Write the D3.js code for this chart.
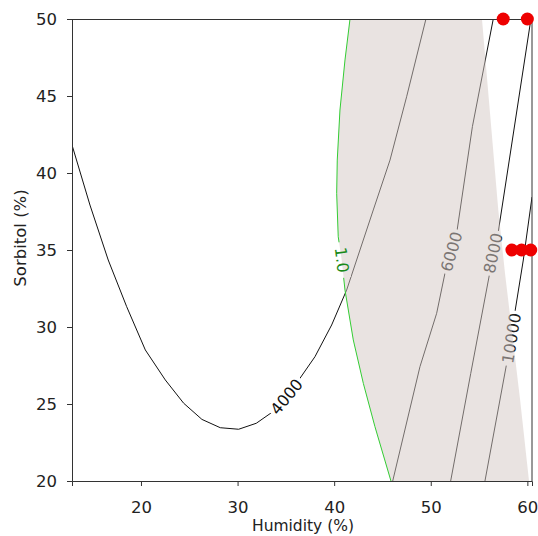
<!DOCTYPE html>
<html><head><meta charset="utf-8">
<script src="https://cdn.jsdelivr.net/npm/d3@7"></script>
<style>body{margin:0;background:#fff}svg{display:block}</style>
</head><body><svg id="chart" width="538" height="536"></svg>
<script>
// ---- data ----
const xTicks = [20, 30, 40, 50, 60];
const yTicks = [20, 25, 30, 35, 40, 45, 50];
const xDomain = [12.86, 60.48];
const yDomain = [20, 50];

// contour levels: [humidity, sorbitol]
const level4000 = [[12.86,41.82],[14.72,37.92],[16.61,34.35],[18.52,31.32],[20.45,28.51],[22.52,26.56],[24.42,25.05],[26.31,24.0],[28.21,23.46],[30.11,23.36],[31.94,23.75],[33.56,24.46],[35.08,25.47],[36.46,26.67],[38.01,28.07],[39.74,30.13],[41.29,32.4],[42.67,35.0],[44.05,37.6],[45.78,40.84],[47.5,44.95],[49.5,50]];
const level6000 = [[46.06,20],[48.88,27.42],[50.61,30.89],[51.47,33.49],[52.16,34.89],[52.68,36.08],[54.31,43.01],[56.47,50]];
const level8000 = [[52.06,20],[54.14,26.99],[56.13,33.59],[56.47,34.8],[56.99,36.19],[60.37,50]];
const level10000 = [[55.61,20],[57.86,27.64],[58.37,29.27],[58.72,31.0],[59.58,34.35],[60.48,38.44]];
const desirability = [[41.64,50],[41.12,47.34],[40.6,44.09],[40.32,40.84],[40.26,38.68],[40.42,35.86],[40.78,34.35],[41.12,32.4],[41.98,29.16],[43.02,26.34],[44.22,23.53],[45.88,20]];
const regionRightEdge = [[55.30,50],[56.99,37.6],[57.68,33.51],[59.25,25.26],[60.17,20]];

const contourNames = ["4000","6000","8000","10000"];
const contourLines = [level4000, level6000, level8000, level10000];
const labelAnchors = [[35.08,25.47],[52.16,34.89],[56.47,34.8],[58.37,29.27]];
const labelColors = ["#111","#222","#222","#222"];
const desirabilityLabel = "1.0";
const desirabilityAnchor = [40.78,34.35];

const pointsHumidity = [57.5, 60.0, 58.4, 59.4, 60.35];
const pointsSorbitol = [50, 50, 35, 35, 35];

// ---- layout ----
const W = 538, H = 536;
const m = {left:72, right:6, top:19, bottom:55};
const svg = d3.select("#chart");
const x = d3.scaleLinear().domain(xDomain).range([m.left, W - m.right]);
const y = d3.scaleLinear().domain(yDomain).range([H - m.bottom, m.top]);
const line = d3.line().x(d => x(d[0])).y(d => y(d[1]));
const font = "'DejaVu Sans', Verdana, sans-serif";

svg.append("defs").append("clipPath").attr("id","plotclip")
  .append("rect").attr("x",x.range()[0]).attr("y",y.range()[1])
  .attr("width",x.range()[1]-x.range()[0]).attr("height",y.range()[0]-y.range()[1]);

function labelGeom(pts, anchor){
  let best = 0, bd = Infinity;
  pts.forEach((p,i)=>{const d=(p[0]-anchor[0])**2+(p[1]-anchor[1])**2; if(d<bd){bd=d;best=i;}});
  const a = pts[Math.max(0,best-1)], b = pts[Math.min(pts.length-1,best+1)];
  let ang = Math.atan2(y(b[1])-y(a[1]), x(b[0])-x(a[0]))*180/Math.PI;
  if (ang > 90) ang -= 180; if (ang <= -90) ang += 180;
  return {cx:x(anchor[0]), cy:y(anchor[1]), ang};
}

const labelFont = 16;
const allLabels = contourNames.map((t,i)=>({text:t, g:labelGeom(contourLines[i], labelAnchors[i]), color:labelColors[i]}));
const dLabel = {text:desirabilityLabel, g:labelGeom(desirability, desirabilityAnchor), color:"#1a8a1a"};

// mask with gaps at labels
const mask = svg.select("defs").append("mask").attr("id","gapmask").attr("maskUnits","userSpaceOnUse")
  .attr("x",0).attr("y",0).attr("width",W).attr("height",H);
mask.append("rect").attr("width",W).attr("height",H).attr("fill","#fff");
[...allLabels, dLabel].forEach(l=>{
  const w = l.text.length*labelFont*0.62 + 6;
  mask.append("rect").attr("x",-w/2).attr("y",-labelFont*0.45).attr("width",w).attr("height",labelFont*0.9)
    .attr("fill","#000").attr("transform",`translate(${l.g.cx},${l.g.cy}) rotate(${l.g.ang})`);
});

const plot = svg.append("g").attr("clip-path","url(#plotclip)");
const lines = plot.append("g").attr("mask","url(#gapmask)");
lines.selectAll("path.c").data(contourLines).join("path").attr("class","c")
  .attr("d",line).attr("fill","none").attr("stroke","#111").attr("stroke-width",1);

plot.selectAll("text.cl").data(allLabels).join("text").attr("class","cl")
  .attr("transform",d=>`translate(${d.g.cx},${d.g.cy}) rotate(${d.g.ang})`)
  .attr("text-anchor","middle").attr("dominant-baseline","central")
  .attr("font-family",font).attr("font-size",labelFont).attr("fill",d=>d.color).text(d=>d.text);

// shaded feasible region (semi transparent overlay)
const region = desirability.concat(regionRightEdge.slice().reverse());
plot.append("path").datum(region).attr("d",d=>line(d)+"Z")
  .attr("fill","rgb(212,199,196)").attr("fill-opacity",0.5);

plot.append("g").attr("mask","url(#gapmask)").append("path").datum(desirability)
  .attr("d",line).attr("fill","none").attr("stroke","#33cc33").attr("stroke-width",1);
plot.append("text")
  .attr("transform",`translate(${dLabel.g.cx},${dLabel.g.cy}) rotate(${dLabel.g.ang})`)
  .attr("text-anchor","middle").attr("dominant-baseline","central")
  .attr("font-family",font).attr("font-size",labelFont).attr("fill",dLabel.color).text(dLabel.text);

// axes
const xAxis = svg.append("g").attr("transform",`translate(0,${y.range()[0]})`)
  .call(d3.axisBottom(x).tickValues(xTicks).tickSize(5).tickPadding(15));
const yAxis = svg.append("g").attr("transform",`translate(${x.range()[0]},0)`)
  .call(d3.axisLeft(y).tickValues(yTicks).tickSize(5).tickPadding(10));
[xAxis,yAxis].forEach(a=>{
  a.selectAll("text").attr("font-family",font).attr("font-size",16.5).attr("fill","#222");
  a.selectAll("line,path").attr("stroke","#333");
});
// top & right frame
svg.append("path").attr("d",`M${x.range()[0]},${y.range()[1]+0.5}H${x.range()[1]}V${y.range()[0]}`)
  .attr("fill","none").attr("stroke","#333");

svg.append("text").attr("x",(x.range()[0]+x.range()[1])/2 + 1).attr("y",H-5)
  .attr("text-anchor","middle").attr("font-family",font).attr("font-size",15.5).attr("fill","#222").text("Humidity (%)");
svg.append("text").attr("transform",`translate(26,238) rotate(-90)`)
  .attr("text-anchor","middle").attr("font-family",font).attr("font-size",16.5).attr("fill","#222").text("Sorbitol (%)");

// design points
svg.selectAll("circle.pt").data(pointsHumidity).join("circle").attr("class","pt")
  .attr("cx",d=>x(d)).attr("cy",(d,i)=>y(pointsSorbitol[i])).attr("r",6.5).attr("fill","#ee0000");
</script></body></html>
